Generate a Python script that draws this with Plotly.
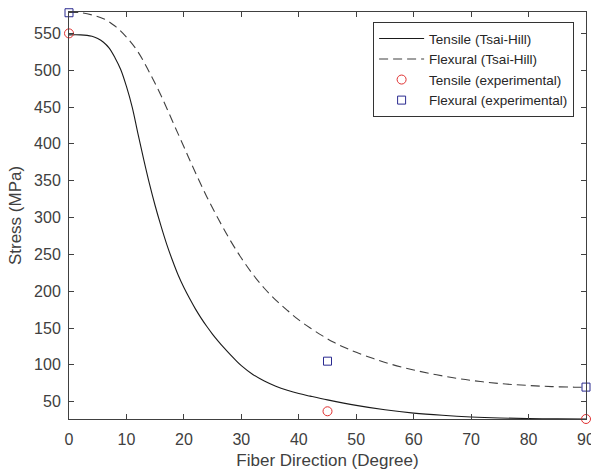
import plotly.graph_objects as go

# Tsai-Hill curves
tensile_deg = [0, 2, 4, 5, 6, 7, 8, 9, 10, 11, 12, 13, 14, 15, 16, 17, 18, 19, 20,
               21, 22, 23, 24, 25, 26, 27, 28, 29, 30, 32, 34, 36, 38, 40, 42, 45,
               50, 55, 60, 65, 70, 75, 80, 85, 90]
tensile_th = [548, 548, 546, 543, 538, 530, 517, 501, 478, 450, 414, 379, 346, 316,
              289, 264, 242, 222, 205, 190, 176, 163.5, 152, 141.5, 132, 123, 114.5,
              106.5, 99, 87, 78, 71, 65.5, 61, 57.5, 52.5, 45, 39, 34.5, 31.5, 29.3,
              27.9, 27.1, 26.7, 26.5]

flexural_deg = [0, 2, 4, 6, 8, 10, 12, 14, 16, 18, 20, 22, 24, 26, 28, 30, 32,
                34, 36, 38, 40, 42, 44, 46, 48, 50, 53, 56, 60, 64, 68, 72, 76, 80,
                84, 88, 90]
flexural_th = [578.5, 578, 575, 570, 560, 545, 525, 497, 466, 431, 396, 361, 328,
               298, 270, 245, 223, 204, 188, 174, 161, 150, 140, 131, 123.5, 117,
               108.5, 101, 93, 86.5, 81, 77, 74, 72, 70.5, 69.7, 69.4]

# Experimental points
exp_deg = [0, 45, 90]
tensile_exp = [550, 37, 26.5]
flexural_exp = [578, 105, 69.8]

x_ticks = [0, 10, 20, 30, 40, 50, 60, 70, 80, 90]
y_ticks = [50, 100, 150, 200, 250, 300, 350, 400, 450, 500, 550]

FONT = "Arial, Liberation Sans, sans-serif"
AX = "#404040"

fig = go.Figure()
fig.add_trace(go.Scatter(x=tensile_deg, y=tensile_th, mode="lines",
                         name="Tensile (Tsai-Hill)", line=dict(color="#1a1a1a", width=1.1, shape="spline")))
fig.add_trace(go.Scatter(x=flexural_deg, y=flexural_th, mode="lines",
                         name="Flexural (Tsai-Hill)",
                         line=dict(color="#404040", width=1.1, dash="9px,5px", shape="spline")))
fig.add_trace(go.Scatter(x=exp_deg, y=tensile_exp, mode="markers", cliponaxis=False,
                         name="Tensile (experimental)",
                         marker=dict(symbol="circle-open", size=9, color="#e03030", line=dict(width=1))))
fig.add_trace(go.Scatter(x=exp_deg, y=flexural_exp, mode="markers", cliponaxis=False,
                         name="Flexural (experimental)",
                         marker=dict(symbol="square-open", size=8, color="#2a2a90", line=dict(width=1))))

axis_common = dict(showline=True, linecolor=AX, linewidth=1, mirror="ticks",
                   ticks="inside", ticklen=5, tickcolor=AX, tickwidth=1,
                   showgrid=False, zeroline=False, automargin=False,
                   tickfont=dict(family=FONT, size=16, color=AX))

fig.update_layout(
    template="none",
    width=591, height=471,
    margin=dict(l=69, r=5, t=12, b=52),
    paper_bgcolor="white", plot_bgcolor="white",
    font=dict(family=FONT, color=AX),
    xaxis=dict(range=[0, 90], tickvals=x_ticks, ticklabeloverflow="allow",
               ticklabelstandoff=6,
               title=dict(text="Fiber Direction (Degree)", font=dict(family=FONT, size=17, color=AX), standoff=6),
               **axis_common),
    yaxis=dict(range=[26.5, 579], tickvals=y_ticks, ticklabelstandoff=4,
               title=dict(text="Stress (MPa)", font=dict(family=FONT, size=17, color=AX), standoff=8),
               **axis_common),
    legend=dict(x=0.977, y=0.975, xanchor="right", yanchor="top",
                bgcolor="white", bordercolor="#333333", borderwidth=1, itemwidth=45,
                font=dict(family=FONT, size=13.5, color="#262626"), tracegroupgap=0),
    showlegend=True,
)

fig.write_html("out.html")
